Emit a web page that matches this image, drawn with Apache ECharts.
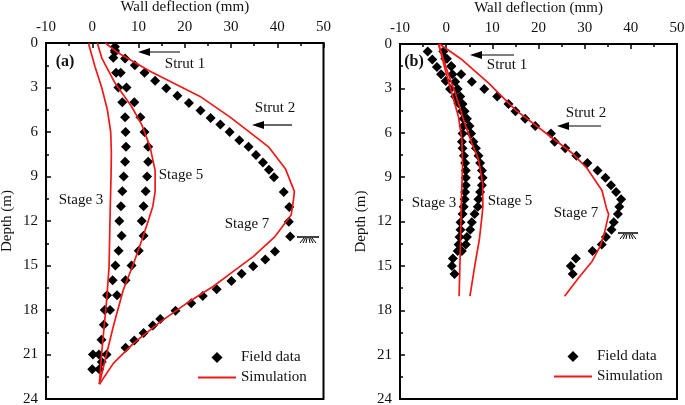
<!DOCTYPE html>
<html>
<head>
<meta charset="utf-8">
<style>html,body{margin:0;padding:0;background:#fff}#c{width:685px;height:405px}</style>
<script src="https://cdn.jsdelivr.net/npm/echarts@6/dist/echarts.min.js"></script>
</head>
<body>
<div id="c"></div>
<script>
// Panel (a): [deflection mm, depth m]
const fieldA3 = [[4.9,.25],[4.9,.6],[4.55,1],[5.15,2],[5.65,3],[6.5,4],[7.1,5],[7.2,6],[7.3,7],[7.1,8],[6.8,9],[6.5,10],[6.2,11],[5.85,12],[6.35,13],[5.7,14],[5,15],[4.4,16],[3.2,17],[2.7,18],[2.5,19],[2,20],[0.15,21],[1.45,21],[0,22]];
const fieldA5 = [[6.15,2],[7.4,3],[9.1,4],[10.4,5],[11.3,6],[12.1,7],[12.1,8],[11.85,9],[11.55,10],[11.1,11],[10.7,12],[11.1,13],[10.05,14],[8.5,15],[7.2,16],[5.35,17],[3.85,18],[3.1,21],[2.05,21.5],[1.5,22]];
const fieldA7 = [[4.9,.5],[7.1,1.05],[9.2,1.5],[11.3,2],[13.6,2.55],[16,3.05],[18.4,3.55],[20.9,4.05],[23.4,4.55],[25.6,5.05],[27.7,5.5],[29.7,6],[31.8,6.55],[33.8,7],[35.4,7.55],[36.9,8.05],[38.2,8.55],[39.3,9.05],[41.4,10.05],[42.6,11.05],[42.5,12.05],[42.8,13.05],[39.5,14.05],[37.4,14.6],[34.8,15.05],[32.3,15.55],[30.1,16.05],[26.9,16.6],[23.9,17.05],[21.4,17.55],[18,18.05],[14.7,18.6],[13.1,19.05],[11.1,19.55],[9.1,20.05],[7.2,20.55]];
const simA3 = [[-.84,0],[.6,1.6],[2.04,3],[3.27,4.5],[3.99,6],[4.13,7.4],[4.06,9],[3.9,11],[3.63,15.1],[3.12,17.3],[2.04,20.9],[1.54,23]];
const simA5 = [[1.1,0],[2.04,1],[4.92,2.7],[8.53,4.3],[10.7,5.5],[12.5,7],[13.6,8.6],[13.6,10],[13.1,11],[12.1,12],[10.7,13.3],[8.9,14.9],[6.7,16.65],[4.56,19.1],[2.76,21.4],[1.54,23]];
const simA7 = [[2.83,0],[5.28,.6],[12.5,1.9],[23.3,3.6],[29.8,5],[35.2,6.3],[38.1,7],[41.8,8.5],[43.7,10],[43.5,10.6],[43,11.6],[39.5,13.05],[34.8,14.4],[30.5,15.4],[26.2,16.4],[20.4,17.55],[14.7,18.8],[8.9,20.25],[4.56,21.6],[1.54,23]];
// Panel (b)
const fieldB3 = [[-4,.5],[-3,1.05],[-2,1.55],[-1.1,2.05],[-.1,2.5],[.85,3.05],[1.95,3.55],[2.65,4],[3.4,4.55],[3.75,5.05],[3.75,5.55],[3.55,6.05],[3.4,6.6],[3.55,7.05],[3.85,7.55],[4.1,8.05],[4.25,8.55],[4.25,9.05],[4.25,9.55],[4.1,10],[4,10.5],[3.8,11],[3.55,11.5],[3.1,12.05],[3.1,12.55],[2.9,13.05],[2.7,13.55],[2.5,14],[1.45,14.5],[1.25,15],[1.8,15.55]];
const fieldB5 = [[-.6,.5],[.15,1],[1.1,1.5],[1.35,2.05],[1.95,2.55],[2.5,3.05],[3.05,3.55],[3.55,4.05],[4,4.55],[4.5,5.05],[5.05,5.55],[5.4,6.05],[5.9,6.6],[6.45,7.05],[7,7.55],[7.35,8.05],[7.75,8.55],[7.9,9.05],[7.75,9.55],[7.35,10],[7,10.5],[6.85,11],[6.15,11.5],[5.55,12.05],[5.2,12.55],[4.5,13.05],[4.25,13.55],[3.4,14]];
const fieldB7 = [[-.2,1],[1.1,1.5],[3.25,2.05],[5.55,2.55],[8.25,3.05],[11.05,3.55],[13.5,4.05],[15,4.55],[17.1,5.05],[19.3,5.55],[22.7,6.05],[23.5,6.6],[25.8,7.05],[28.2,7.55],[30.6,8.05],[32.8,8.55],[34.5,9.05],[35.7,9.55],[36.8,10],[37.9,10.5],[37.5,11],[37.2,11.5],[36.3,12.05],[35.8,12.55],[34.6,13.05],[33.7,13.55],[31.7,14],[28.1,14.5],[27,15],[27.4,15.55]];
const simB3 = [[-1.65,0],[-.2,1.75],[1.2,3.3],[2.65,4.9],[3.4,6.45],[3.55,8.25],[3.3,10.5],[3.1,13.45],[2.8,17.05]];
const simB5 = [[-1.65,0],[.15,1.75],[1.95,3.3],[3.75,5.1],[5.55,6.7],[7,7.8],[7.9,9.4],[7.95,11],[7.75,11.65],[7.2,13.2],[6.3,14.8],[5.15,17.05]];
const simB7 = [[-1.45,0],[3.4,1.05],[9.2,2.65],[15,4.45],[21.5,6],[27.2,7.35],[30.5,8.4],[33.75,9.9],[34.8,11.2],[35.2,11.5],[34.3,12.75],[33.4,13.65],[31.6,14.7],[28.7,15.8],[25.65,17.05]];

const xTitle = 'Wall deflection (mm)';
const yTitle = 'Depth (m)';
const fieldName = 'Field data';
const simName = 'Simulation';

const FONT = 'Liberation Serif';
const FS = 15;
const chart = echarts.init(document.getElementById('c'), null, {renderer:'canvas'});

function xAx(i){ return {
  gridIndex:i, type:'value', position:'top', min:-10, max:50, interval:10,
  name:xTitle, nameLocation:'middle', nameGap:28,
  nameTextStyle:{fontFamily:FONT,fontSize:FS,color:'#111'},
  axisLine:{show:true,onZero:false,lineStyle:{color:'#000',width:2}},
  axisTick:{show:true,inside:true,length:5,lineStyle:{color:'#000',width:1.5}},
  minorTick:{show:true,splitNumber:2,length:3,lineStyle:{color:'#000',width:1.5}},
  axisLabel:{margin:8,fontFamily:FONT,fontSize:FS,color:'#111',showMinLabel:true,showMaxLabel:true},
  splitLine:{show:false}, minorSplitLine:{show:false}
};}
function yAx(i){ return {
  gridIndex:i, type:'value', inverse:true, min:0, max:24, interval:3,
  name:yTitle, nameLocation:'middle', nameGap:31,
  nameTextStyle:{fontFamily:FONT,fontSize:FS,color:'#111'},
  axisLine:{show:true,onZero:false,lineStyle:{color:'#000',width:2}},
  axisTick:{show:true,inside:true,length:5,lineStyle:{color:'#000',width:1.5}},
  minorTick:{show:true,splitNumber:2,length:3,lineStyle:{color:'#000',width:1.5}},
  axisLabel:{margin:8,fontFamily:FONT,fontSize:FS,color:'#111',showMinLabel:true,showMaxLabel:true},
  splitLine:{show:false}, minorSplitLine:{show:false}
};}
function field(d,i){ return {name:fieldName,type:'scatter',xAxisIndex:i,yAxisIndex:i,data:d,symbol:'diamond',symbolSize:10,itemStyle:{color:'#000',opacity:1},z:2,clip:false}; }
function sim(d,i){ return {name:simName,type:'line',xAxisIndex:i,yAxisIndex:i,data:d,showSymbol:false,symbol:'none',lineStyle:{color:'#f01818',width:1.7},itemStyle:{color:'#f01818'},z:3,clip:false}; }
function legend(left,top){ return {
  left:left, top:top, orient:'vertical', itemWidth:38, itemHeight:11, itemGap:5, padding:0,selectedMode:false,symbolKeepAspect:true,
  textStyle:{fontFamily:FONT,fontSize:FS,color:'#111'},
  data:[{name:fieldName,icon:'path://M5,0L10,5L5,10L0,5Z',itemStyle:{color:'#000',opacity:1}},
        {name:simName,icon:'path://M0,0H38V2H0Z',itemStyle:{color:'#f01818'}}]
};}
function label(x,y,t,extra){ return {type:'text',x:x,y:y,style:Object.assign({text:t,font:FS+'px "'+FONT+'"',fill:'#111',textAlign:'center',textVerticalAlign:'middle'},extra||{}),z:10}; }
function arrow(x1,x2,y){ return [
  {type:'line',shape:{x1:x1,y1:y,x2:x2+8,y2:y},style:{stroke:'#000',lineWidth:1.2},z:10},
  {type:'polygon',shape:{points:[[x2,y],[x2+12,y-4],[x2+12,y+4]]},style:{fill:'#000'},z:10}
];}
function ground(x1,x2,y){
  const out=[{type:'line',shape:{x1:x1,y1:y,x2:x2,y2:y},style:{stroke:'#000',lineWidth:1.5},z:10}];
  const mid=(x1+x2)/2;
  [-8,-5,-2,2,5,8].forEach(d=>out.push({type:'line',shape:{x1:mid+d*0.5,y1:y+1,x2:mid+d,y2:y+6},style:{stroke:'#000',lineWidth:1},z:10}));
  return out;
}

const graphics = [
  label(65,62,'(a)',{font:'bold 16px "'+FONT+'"'}),
  label(185,64,'Strut 1'), label(275,108,'Strut 2'),
  label(181,175,'Stage 5'), label(81,200,'Stage 3'), label(247,224,'Stage 7'),
  ...arrow(180,138,52), ...arrow(292,252,125), ...ground(297,319,237),
  label(414,62,'(b)',{font:'bold 16px "'+FONT+'"'}),
  label(507,65,'Strut 1'), label(586,113,'Strut 2'),
  label(434,203,'Stage 3'), label(510,201,'Stage 5'), label(576,213,'Stage 7'),
  ...arrow(514,470,55), ...arrow(601,557,126), ...ground(618,638,233)
];

chart.setOption({
  animation:false,
  backgroundColor:'#fff',
  grid:[
    {left:46,top:43,width:277.5,height:356,show:true,borderColor:'#000',borderWidth:2,backgroundColor:'transparent',outerBoundsMode:'none'},
    {left:400,top:44,width:277,height:355,show:true,borderColor:'#000',borderWidth:2,backgroundColor:'transparent',outerBoundsMode:'none'}
  ],
  xAxis:[xAx(0),xAx(1)],
  yAxis:[yAx(0),yAx(1)],
  legend:[legend(198,350),legend(554,349)],
  series:[
    field(fieldA3,0),field(fieldA5,0),field(fieldA7,0),
    sim(simA3,0),sim(simA5,0),sim(simA7,0),
    field(fieldB3,1),field(fieldB5,1),field(fieldB7,1),
    sim(simB3,1),sim(simB5,1),sim(simB7,1)
  ],
  graphic:graphics
});
</script>
</body>
</html>
